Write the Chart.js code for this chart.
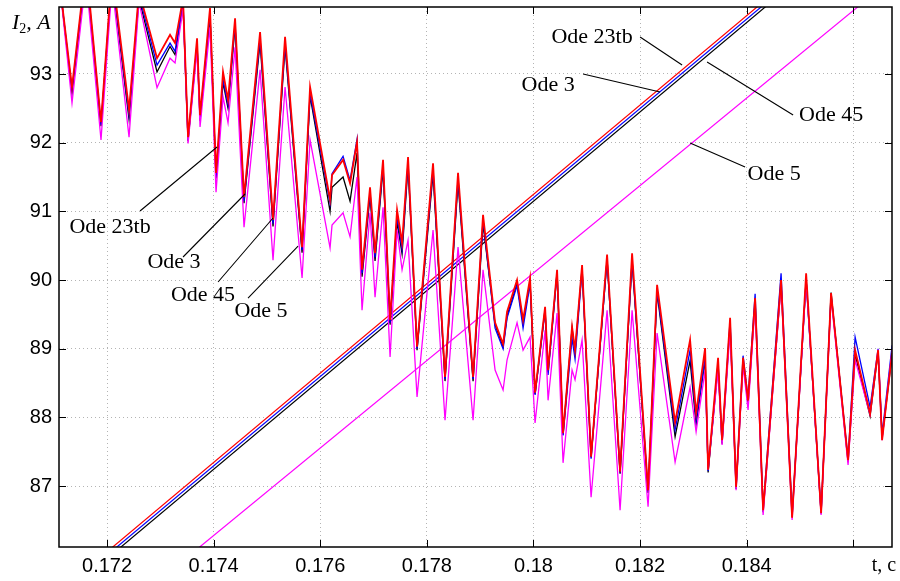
<!DOCTYPE html>
<html>
<head>
<meta charset="utf-8">
<script src="https://cdn.jsdelivr.net/npm/chart.js@4"></script>
<style>
  html, body { margin: 0; padding: 0; background: #fff; }
  canvas { display: block; }
</style>
</head>
<body>
<canvas id="currentChart" width="900" height="581"></canvas>
<script>
// Stator current I2 for four solvers, seconds vs amperes
const time = [
  0.171099, 0.171343, 0.171606, 0.171887, 0.172094, 0.172413, 0.172600, 0.172938, 0.173182, 0.173276,
  0.173426, 0.173520, 0.173689, 0.173745, 0.173932, 0.174045, 0.174176, 0.174270, 0.174402, 0.174570,
  0.174871, 0.175114, 0.175340, 0.175659, 0.175809, 0.176184, 0.176221, 0.176428, 0.176559, 0.176690,
  0.176784, 0.176934, 0.177028, 0.177178, 0.177310, 0.177441, 0.177535, 0.177647, 0.177816, 0.178116,
  0.178341, 0.178585, 0.178867, 0.179054, 0.179280, 0.179430, 0.179505, 0.179692, 0.179805, 0.179936,
  0.180030, 0.180218, 0.180274, 0.180443, 0.180555, 0.180724, 0.180780, 0.180912, 0.181081, 0.181381,
  0.181625, 0.181850, 0.182150, 0.182319, 0.182657, 0.182938, 0.183051, 0.183220, 0.183276, 0.183463,
  0.183538, 0.183689, 0.183801, 0.183932, 0.184026, 0.184158, 0.184308, 0.184645, 0.184852, 0.185115,
  0.185396, 0.185583, 0.185902, 0.186034, 0.186315, 0.186465, 0.186540, 0.186728
];

const ode23tb = [
  94.40, 92.81, 94.60, 92.30, 94.50, 92.48, 94.20, 93.23, 93.57, 93.45,
  94.10, 92.08, 93.52, 92.40, 93.96, 91.56, 93.03, 92.62, 93.81, 91.21,
  93.61, 90.88, 93.54, 90.48, 92.81, 91.17, 91.53, 91.75, 91.41, 92.01,
  90.15, 91.35, 90.39, 91.75, 89.42, 91.02, 90.54, 91.79, 89.03, 91.70,
  88.59, 91.56, 88.59, 90.95, 89.38, 89.07, 89.54, 90.00, 89.42, 90.03,
  88.36, 89.61, 88.69, 90.15, 87.77, 89.32, 88.98, 90.22, 87.43, 90.37,
  87.21, 90.39, 86.94, 89.93, 87.93, 89.13, 88.06, 89.01, 87.24, 88.87,
  87.67, 89.45, 86.99, 88.87, 88.25, 89.74, 86.65, 90.00, 86.54, 90.10,
  86.61, 89.81, 87.38, 88.98, 88.06, 88.98, 87.67, 88.94
];

const ode3 = [
  94.40, 92.76, 94.55, 92.26, 94.45, 92.40, 94.15, 93.13, 93.45, 93.33,
  94.05, 92.04, 93.45, 92.35, 93.88, 91.50, 92.92, 92.55, 93.74, 91.15,
  93.52, 90.82, 93.45, 90.44, 92.72, 91.12, 91.55, 91.80, 91.45, 92.05,
  90.10, 91.28, 90.33, 91.68, 89.38, 90.92, 90.45, 91.72, 89.00, 91.62,
  88.56, 91.48, 88.56, 90.88, 89.30, 89.00, 89.45, 89.92, 89.30, 89.95,
  88.33, 89.55, 88.62, 90.10, 87.74, 89.15, 88.85, 90.15, 87.40, 90.30,
  87.20, 90.30, 86.92, 89.85, 87.82, 88.98, 87.95, 88.88, 87.22, 88.80,
  87.65, 89.42, 86.98, 88.90, 88.28, 89.80, 86.68, 90.10, 86.58, 90.02,
  86.62, 89.78, 87.40, 89.17, 88.15, 89.00, 87.75, 89.05
];

const ode45 = [
  94.40, 92.72, 94.50, 92.24, 94.40, 92.34, 94.10, 93.03, 93.40, 93.28,
  94.00, 92.02, 93.42, 92.32, 93.85, 91.48, 92.88, 92.50, 93.70, 91.12,
  93.46, 90.78, 93.40, 90.40, 92.68, 91.00, 91.35, 91.50, 91.15, 91.85,
  90.05, 91.22, 90.28, 91.62, 89.35, 90.85, 90.38, 91.66, 88.98, 91.55,
  88.53, 91.42, 88.53, 90.82, 89.35, 89.03, 89.48, 89.95, 89.38, 89.98,
  88.34, 89.58, 88.66, 90.12, 87.75, 89.30, 88.95, 90.18, 87.42, 90.30,
  87.18, 90.28, 86.90, 89.82, 87.72, 88.83, 87.90, 88.85, 87.20, 88.75,
  87.62, 89.35, 86.96, 88.80, 88.20, 89.70, 86.62, 89.95, 86.55, 90.00,
  86.60, 89.82, 87.35, 88.92, 88.02, 88.95, 87.70, 88.92
];

const ode5 = [
  94.40, 92.58, 94.40, 92.04, 94.30, 92.08, 94.05, 92.80, 93.23, 93.16,
  93.95, 91.99, 93.35, 92.23, 93.68, 91.28, 92.67, 92.29, 93.39, 90.77,
  93.06, 90.29, 92.81, 90.03, 92.04, 90.47, 90.80, 90.98, 90.63, 91.50,
  89.56, 90.98, 89.75, 91.06, 88.88, 90.73, 90.15, 90.58, 88.30, 90.73,
  87.96, 90.48, 87.96, 90.15, 88.69, 88.40, 88.84, 89.38, 88.98, 89.17,
  87.92, 89.27, 88.25, 89.52, 87.34, 88.69, 88.55, 89.13, 86.84, 89.56,
  86.65, 89.56, 86.70, 89.23, 87.35, 88.44, 87.79, 88.69, 87.24, 88.69,
  87.60, 89.27, 86.94, 88.76, 88.11, 89.64, 86.58, 89.93, 86.51, 90.00,
  86.58, 89.74, 87.31, 88.84, 88.04, 88.99, 87.67, 88.99
];

// straight ramps of the second quantity, same solvers
const rampTime = [0.1715, 0.1870];
const ramp23tb = [85.72, 95.80];
const ramp3 = [85.67, 95.75];
const ramp45 = [85.62, 95.70];
const ramp5 = [84.69, 94.56];

const xTicks = [0.172, 0.174, 0.176, 0.178, 0.180, 0.182, 0.184, 0.186];
const xTickLabels = ['0.172', '0.174', '0.176', '0.178', '0.18', '0.182', '0.184', ''];
const yTicks = [87, 88, 89, 90, 91, 92, 93];
const yTickLabels = ['87', '88', '89', '90', '91', '92', '93'];

// callout text and leader lines, in data units
const callouts = [
  { text: 'Ode 23tb', at: [0.172056, 90.77], from: [0.172619, 91.006], to: [0.174064, 91.937] },
  { text: 'Ode 3', at: [0.173257, 90.26], from: [0.173426, 90.336], to: [0.174589, 91.253] },
  { text: 'Ode 45', at: [0.173801, 89.78], from: [0.174083, 89.972], to: [0.175114, 90.904] },
  { text: 'Ode 5', at: [0.174889, 89.55], from: [0.174645, 89.739], to: [0.175584, 90.496] },
  { text: 'Ode 23tb', at: [0.181099, 93.54], from: [0.182000, 93.538], to: [0.182788, 93.131] },
  { text: 'Ode 3', at: [0.180274, 92.83], from: [0.180931, 93.000], to: [0.182375, 92.738] },
  { text: 'Ode 45', at: [0.185583, 92.40], from: [0.184871, 92.403], to: [0.183257, 93.175] },
  { text: 'Ode 5', at: [0.184514, 91.54], from: [0.183970, 91.646], to: [0.182938, 91.995] }
];

const toPoints = (xs, ys) => xs.map((v, i) => ({ x: v, y: ys[i] }));

function series(label, xs, ys, color, width, order) {
    return {
        label: label,
        data: toPoints(xs, ys),
        borderColor: color,
        borderWidth: width,
        pointRadius: 0,
        tension: 0,
        fill: false,
        order: order
    };
}

const overlay = {
    id: 'overlay',
    afterDatasetsDraw(chart) {
        const { ctx, chartArea: a, scales: { x, y } } = chart;
        ctx.save();

        // inward tick marks on all four sides
        ctx.strokeStyle = '#000';
        ctx.lineWidth = 1;
        ctx.beginPath();
        xTicks.forEach(v => {
            const px = Math.round(x.getPixelForValue(v)) + 0.5;
            ctx.moveTo(px, a.bottom); ctx.lineTo(px, a.bottom - 7);
            ctx.moveTo(px, a.top); ctx.lineTo(px, a.top + 7);
        });
        yTicks.forEach(v => {
            const py = Math.round(y.getPixelForValue(v)) + 0.5;
            ctx.moveTo(a.left, py); ctx.lineTo(a.left + 7, py);
            ctx.moveTo(a.right, py); ctx.lineTo(a.right - 7, py);
        });
        ctx.stroke();

        // frame
        ctx.lineWidth = 1.5;
        ctx.strokeRect(a.left, a.top, a.right - a.left, a.bottom - a.top);

        // callouts
        ctx.lineWidth = 1.1;
        ctx.beginPath();
        callouts.forEach(c => {
            ctx.moveTo(x.getPixelForValue(c.from[0]), y.getPixelForValue(c.from[1]));
            ctx.lineTo(x.getPixelForValue(c.to[0]), y.getPixelForValue(c.to[1]));
        });
        ctx.stroke();
        ctx.fillStyle = '#000';
        ctx.font = '22px "Liberation Serif", "DejaVu Serif", serif';
        ctx.textAlign = 'center';
        ctx.textBaseline = 'middle';
        callouts.forEach(c => {
            ctx.fillText(c.text, x.getPixelForValue(c.at[0]), y.getPixelForValue(c.at[1]));
        });

        // axis names
        ctx.textAlign = 'left';
        ctx.textBaseline = 'alphabetic';
        ctx.font = 'italic 22px "Liberation Serif", serif';
        ctx.fillText('I', 12, 29);
        let w = ctx.measureText('I').width;
        ctx.font = '14px "Liberation Serif", serif';
        ctx.fillText('2', 12 + w, 33);
        w += ctx.measureText('2').width;
        ctx.font = 'italic 22px "Liberation Serif", serif';
        ctx.fillText(', A', 12 + w, 29);

        ctx.font = '20px "Liberation Serif", serif';
        ctx.textAlign = 'center';
        ctx.textBaseline = 'middle';
        ctx.fillText('t, c', 884, 566);

        ctx.restore();
    }
};

const tickFont = { family: '"Liberation Sans", Arial, sans-serif', size: 20 };
const gridStyle = { color: '#b4b4b4', lineWidth: 1, drawTicks: false };

function noEdgePadding(s) {
    s.paddingTop = 0;
    s.paddingBottom = 0;
    s.paddingLeft = 0;
    s.paddingRight = 0;
}

new Chart(document.getElementById('currentChart'), {
    type: 'line',
    data: {
        datasets: [
            series('Ode 23tb', time, ode23tb, '#ff0000', 1.8, 0),
            series('Ode 5', time, ode5, '#ff00ff', 1.3, 1),
            series('Ode 3', time, ode3, '#0000ff', 1.3, 2),
            series('Ode 45', time, ode45, '#000000', 1.3, 3),
            series('Ode 23tb ramp', rampTime, ramp23tb, '#ff0000', 1.2, 4),
            series('Ode 3 ramp', rampTime, ramp3, '#0000ff', 1.2, 5),
            series('Ode 45 ramp', rampTime, ramp45, '#000000', 1.2, 6),
            series('Ode 5 ramp', rampTime, ramp5, '#ff00ff', 1.2, 7)
        ]
    },
    options: {
        responsive: false,
        animation: false,
        devicePixelRatio: 1,
        events: [],
        layout: { padding: { top: 7, right: 8, left: 0, bottom: 0 } },
        plugins: {
            legend: { display: false },
            tooltip: { enabled: false }
        },
        scales: {
            x: {
                type: 'linear',
                min: 0.171099,
                max: 0.186726,
                afterBuildTicks: s => { s.ticks = xTicks.map(v => ({ value: v })); },
                afterFit: s => { s.height = 34; noEdgePadding(s); },
                ticks: {
                    autoSkip: false,
                    maxRotation: 0,
                    padding: 7,
                    color: '#000',
                    font: tickFont,
                    callback: (v, i) => xTickLabels[i]
                },
                grid: gridStyle,
                border: { display: false, dash: [1, 3] }
            },
            y: {
                type: 'linear',
                min: 86.115,
                max: 93.975,
                afterBuildTicks: s => { s.ticks = yTicks.map(v => ({ value: v })); },
                afterFit: s => { s.width = 59; noEdgePadding(s); },
                ticks: {
                    padding: 7,
                    color: '#000',
                    font: tickFont,
                    callback: (v, i) => yTickLabels[i]
                },
                grid: gridStyle,
                border: { display: false, dash: [1, 3] }
            }
        }
    },
    plugins: [overlay]
});
</script>
</body>
</html>
